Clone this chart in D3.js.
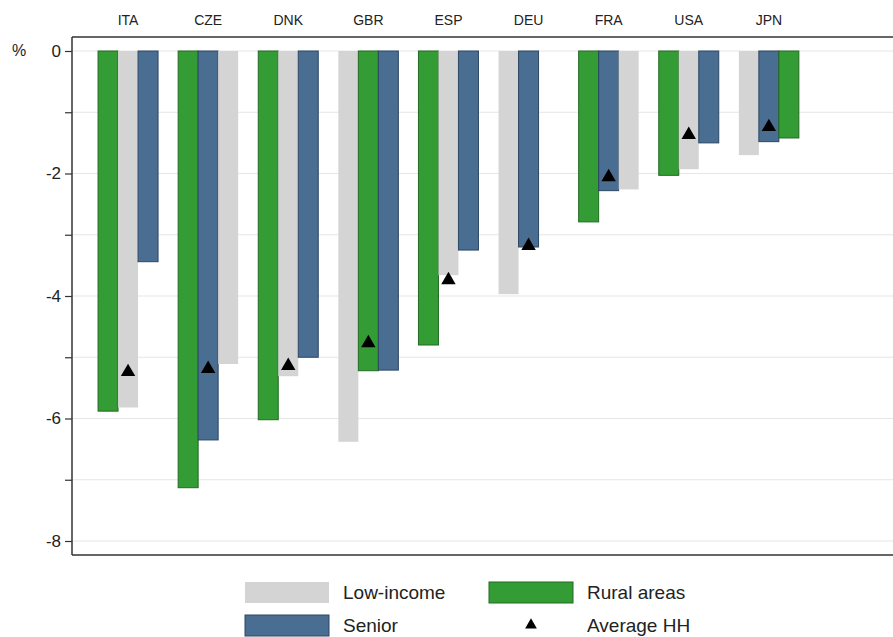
<!DOCTYPE html>
<html>
<head>
<meta charset="utf-8">
<script src="https://cdn.jsdelivr.net/npm/d3@7"></script>
<style>
  html, body { margin: 0; padding: 0; background: #fff; }
  svg { display: block; font-family: "Liberation Sans", Arial, sans-serif; }
</style>
</head>
<body>
<svg id="chart" width="893" height="637"></svg>
<script>
// ---- data ----
const countries = ["ITA", "CZE", "DNK", "GBR", "ESP", "DEU", "FRA", "USA", "JPN"];
const lowIncome = [-5.82, -5.11, -5.31, -6.38, -3.66, -3.97, -2.26, -1.93, -1.70];
const senior    = [-3.44, -6.35, -5.00, -5.21, -3.25, -3.20, -2.28, -1.50, -1.48];
const rural     = [-5.88, -7.13, -6.02, -5.22, -4.80, null, -2.79, -2.03, -1.42];
const averageHH = [-5.24, -5.19, -5.14, -4.77, -3.74, -3.18, -2.06, -1.37, -1.24];
const yTicks = [0, -2, -4, -6, -8];
const yMinor = [-1, -3, -5, -7];
const seriesNames = ["Low-income", "Senior", "Rural areas"];
const seriesColors = { "Low-income": "#d4d4d4", "Senior": "#4a6d92", "Rural areas": "#349c34" };
const seriesStroke = { "Low-income": "none", "Senior": "#2c4763", "Rural areas": "#226b22" };

const svg = d3.select("#chart");
const plot = { left: 72, top: 37, bottom: 555, right: 893 };

const x = d3.scaleBand().domain(countries).range([88, 88 + 80.1 * countries.length]).padding(0);
const slot = d3.scaleBand().domain([0, 1, 2]).range([-30, 30]).padding(0);
const y = d3.scaleLinear().domain([-8, 0]).range([541, 51]);

// gridlines
const gridVals = yTicks.concat(yMinor);
svg.append("g").selectAll("line").data(gridVals).join("line")
  .attr("x1", plot.left).attr("x2", plot.right)
  .attr("y1", d => y(d)).attr("y2", d => y(d))
  .attr("stroke", "#e6e6e6").attr("stroke-width", 1.2);

// bars: within each country sort ascending, missing last
const bars = [];
countries.forEach((c, i) => {
  const vals = [
    { s: "Low-income", v: lowIncome[i] },
    { s: "Senior", v: senior[i] },
    { s: "Rural areas", v: rural[i] }
  ];
  vals.sort((a, b) => {
    if (a.v == null) return 1;
    if (b.v == null) return -1;
    return a.v - b.v;
  });
  vals.forEach((d, k) => { if (d.v != null) bars.push({ c, k, s: d.s, v: d.v }); });
});

const cx = c => x(c) + x.bandwidth() / 2;

svg.append("g").selectAll("rect").data(bars).join("rect")
  .attr("x", d => cx(d.c) + slot(d.k))
  .attr("width", slot.bandwidth())
  .attr("y", d => y(0))
  .attr("height", d => y(d.v) - y(0))
  .attr("fill", d => seriesColors[d.s])
  .attr("stroke", d => seriesStroke[d.s])
  .attr("stroke-width", 1);

// average HH triangles
const tri = d3.symbol().type(d3.symbolTriangle).size(90);
svg.append("g").selectAll("path").data(countries).join("path")
  .attr("d", tri)
  .attr("transform", (c, i) => `translate(${cx(c)},${y(averageHH[i])})`)
  .attr("fill", "#000");

// frame lines (top, bottom, left)
svg.append("line").attr("x1", plot.left).attr("x2", plot.right).attr("y1", plot.top).attr("y2", plot.top)
  .attr("stroke", "#333").attr("stroke-width", 1.5);
svg.append("line").attr("x1", plot.left).attr("x2", plot.right).attr("y1", plot.bottom).attr("y2", plot.bottom)
  .attr("stroke", "#333").attr("stroke-width", 1.5);

// y axis
const yAxis = d3.axisLeft(y).tickValues(yTicks.concat(yMinor)).tickSize(7).tickPadding(4)
  .tickFormat(d => yTicks.includes(d) ? d3.format("d")(d).replace("\u2212", "-") : "");
const gy = svg.append("g").attr("transform", `translate(${plot.left},0)`).call(yAxis);
gy.select(".domain").attr("d", `M-0,${plot.top}V${plot.bottom}`).attr("stroke", "#333").attr("stroke-width", 1.5);
gy.selectAll(".tick line").attr("stroke", "#333").attr("stroke-width", 1.2);
gy.selectAll(".tick text").attr("font-size", 17).attr("fill", "#222")
  .attr("font-family", "'Liberation Sans', Arial, sans-serif");

svg.append("text").attr("x", 12).attr("y", 56).text("%")
  .attr("font-size", 16).attr("fill", "#222");

// top category labels
const xAxis = d3.axisTop(x).tickSize(0).tickPadding(0);
const gx = svg.append("g").attr("transform", `translate(0,25)`).call(xAxis);
gx.select(".domain").remove();
gx.selectAll(".tick text").attr("font-size", 14).attr("fill", "#222")
  .attr("font-family", "'Liberation Sans', Arial, sans-serif");

// legend
const legend = [
  { label: "Low-income", type: "rect", s: "Low-income", x: 245, y: 582 },
  { label: "Rural areas", type: "rect", s: "Rural areas", x: 489, y: 582 },
  { label: "Senior", type: "rect", s: "Senior", x: 245, y: 615 },
  { label: "Average HH", type: "tri", x: 489, y: 615 }
];
const lg = svg.append("g");
legend.forEach(d => {
  if (d.type === "rect") {
    lg.append("rect").attr("x", d.x).attr("y", d.y).attr("width", 84).attr("height", 21)
      .attr("fill", seriesColors[d.s]).attr("stroke", seriesStroke[d.s]).attr("stroke-width", 1);
  } else {
    lg.append("path").attr("d", d3.symbol().type(d3.symbolTriangle).size(60))
      .attr("transform", `translate(${d.x + 42},${d.y + 10})`).attr("fill", "#000");
  }
  lg.append("text").attr("x", d.x + 98).attr("y", d.y + 17).text(d.label)
    .attr("font-size", 19).attr("fill", "#222");
});
</script>
</body>
</html>
